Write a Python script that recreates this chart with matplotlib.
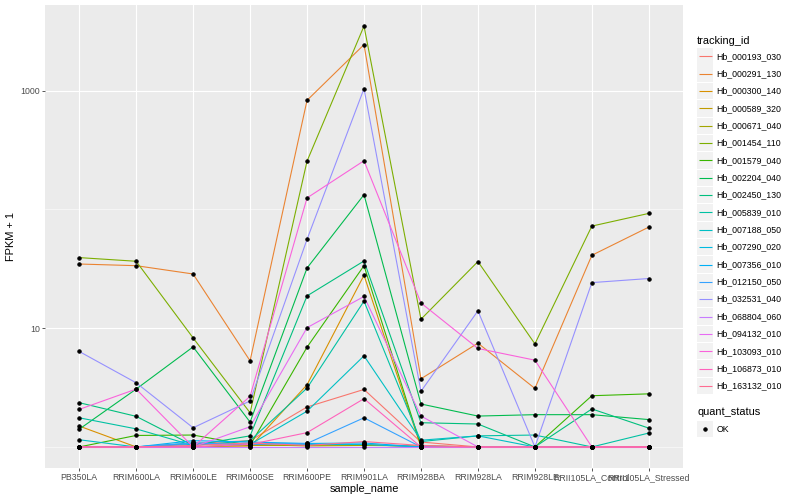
import matplotlib
matplotlib.use("Agg")
import matplotlib.pyplot as plt
import numpy as np
from matplotlib.patches import Rectangle

plt.rcParams['font.family'] = ['Liberation Sans', 'DejaVu Sans']

samples = ["PB350LA", "RRIM600LA", "RRIM600LE", "RRIM600SE", "RRIM600PE",
           "RRIM901LA", "RRIM928BA", "RRIM928LA", "RRIM928LE",
           "RRII105LA_Control", "RRII105LA_Stressed"]

tracking_ids = ["Hb_000193_030", "Hb_000291_130", "Hb_000300_140", "Hb_000589_320",
                "Hb_000671_040", "Hb_001454_110", "Hb_001579_040", "Hb_002204_040",
                "Hb_002450_130", "Hb_005839_010", "Hb_007188_050", "Hb_007290_020",
                "Hb_007356_010", "Hb_012150_050", "Hb_032531_040", "Hb_068804_060",
                "Hb_094132_010", "Hb_103093_010", "Hb_106873_010", "Hb_163132_010"]

colors = ["#F8766D", "#EA8331", "#D89000", "#C09B00", "#A3A500", "#7CAE00",
          "#39B600", "#00BB4E", "#00BF7D", "#00C1A3", "#00BFC4", "#00BAE0",
          "#00B0F6", "#35A2FF", "#9590FF", "#C77CFF", "#E76BF3", "#FA62DB",
          "#FF62BC", "#FF6C91"]

# FPKM + 1 values, one list per tracking_id, in sample order
hb_000193_030 = [1, 1, 1.07, 1.13, 2.17, 3.05, 1.10, 1, 1, 1, 1]
hb_000291_130 = [34.7, 33.6, 28.6, 5.31, 829, 2440, 3.75, 7.48, 3.11, 41.1, 71.0]
hb_000300_140 = [1.50, 1, 1, 1, 3.34, 27.9, 1, 1, 1, 1, 1]
hb_000589_320 = [1, 1, 1, 1.03, 1.03, 1.05, 1, 1, 1, 1, 1]
hb_000671_040 = [1, 1, 1, 1.05, 1.02, 1.03, 1.02, 1, 1, 1, 1]
hb_001454_110 = [39.3, 36.6, 8.28, 1.94, 255, 3500, 11.9, 36.4, 7.38, 72.4, 92.6]
hb_001579_040 = [1, 1.25, 1.26, 1.03, 6.92, 33.6, 1.02, 1, 1, 2.70, 2.80]
hb_002204_040 = [1.41, 3.07, 6.96, 1.62, 32.1, 133, 2.30, 1.82, 1.87, 1.87, 1.70]
hb_002450_130 = [2.36, 1.81, 1.03, 1.24, 18.7, 36.8, 1.60, 1.56, 1, 2.09, 1.44]
hb_005839_010 = [1.76, 1.42, 1.03, 1.13, 3.13, 16.9, 1.11, 1.24, 1.26, 1, 1.31]
hb_007188_050 = [1.15, 1, 1.08, 1.05, 2.00, 5.85, 1.14, 1.24, 1, 1, 1]
hb_007290_020 = [1, 1, 1.05, 1.08, 1.05, 1.05, 1, 1, 1, 1, 1]
hb_007356_010 = [1, 1, 1.13, 1.10, 1.07, 1.08, 1, 1, 1, 1, 1]
hb_012150_050 = [1, 1, 1.08, 1.05, 1.07, 1.76, 1, 1, 1, 1, 1]
hb_032531_040 = [6.37, 3.47, 1.45, 2.44, 56.0, 1040, 2.94, 14.0, 1, 24.2, 26.2]
hb_068804_060 = [1, 1, 1, 1, 1, 1, 1, 1, 1, 1, 1]
hb_094132_010 = [1, 1, 1, 1.48, 10.1, 18.5, 1.82, 1, 1, 1, 1]
hb_103093_010 = [2.07, 3.07, 1, 2.67, 125, 257, 16.3, 6.75, 5.38, 1, 1]
hb_106873_010 = [1, 1, 1, 1.05, 1.32, 2.55, 1, 1, 1, 1, 1]
hb_163132_010 = [1, 1, 1.03, 1.08, 1.03, 1.11, 1.03, 1, 1, 1, 1]

series = [hb_000193_030, hb_000291_130, hb_000300_140, hb_000589_320, hb_000671_040,
          hb_001454_110, hb_001579_040, hb_002204_040, hb_002450_130, hb_005839_010,
          hb_007188_050, hb_007290_020, hb_007356_010, hb_012150_050, hb_032531_040,
          hb_068804_060, hb_094132_010, hb_103093_010, hb_106873_010, hb_163132_010]

W, H = 800, 500
fig = plt.figure(figsize=(W / 72, H / 72), dpi=72)
fig.patch.set_facecolor("white")

L, R, T, B = 45, 683, 5, 468
ax = fig.add_axes([L / W, 1 - B / H, (R - L) / W, (B - T) / H])
ax.set_facecolor("#EBEBEB")

x = np.arange(1, len(samples) + 1)
for vals, c in zip(series, colors):
    ax.plot(x, vals, color=c, lw=1.1, zorder=2, solid_capstyle="butt")
for vals in series:
    ax.plot(x, vals, ls="none", marker="o", ms=3.4, color="black", zorder=3)

ax.set_yscale("log")
allv = np.log10(np.concatenate([np.array(s, dtype=float) for s in series]))
lo, hi = allv.min(), allv.max()
pad = 0.05 * (hi - lo)
ax.set_ylim(10 ** (lo - pad), 10 ** (hi + pad))
ax.set_xlim(0.4, len(samples) + 0.6)

ax.set_xticks(x)
ax.set_xticklabels(samples)
ax.set_yticks([10, 1000])
ax.set_yticklabels(["10", "1000"])
ax.set_yticks([1, 100], minor=True)
ax.set_yticklabels(["", ""], minor=True)
ax.grid(which="major", color="white", lw=1.1)
ax.grid(which="minor", axis="y", color="white", lw=0.55)
ax.set_axisbelow(True)
for s in ax.spines.values():
    s.set_visible(False)
ax.tick_params(which="major", length=2.75, width=0.8, color="#333333",
               labelcolor="#4D4D4D", labelsize=8.8, pad=2.2)
ax.tick_params(which="minor", length=0)
ax.set_xlabel("sample_name", fontsize=11, labelpad=2)
ax.set_ylabel("FPKM + 1", fontsize=11, labelpad=4)

# legend overlay in pixel coordinates
lg = fig.add_axes([0, 0, 1, 1], facecolor="none")
lg.set_xlim(0, W)
lg.set_ylim(H, 0)
lg.axis("off")

lg.text(697, 40.5, "tracking_id", fontsize=11, va="center", ha="left")
y0, dy = 56.3, 17.35
for i, (tid, c) in enumerate(zip(tracking_ids, colors)):
    yc = y0 + i * dy
    lg.add_patch(Rectangle((697, yc - 8.2), 16.4, 16.4, facecolor="#F2F2F2",
                           edgecolor="none"))
    lg.plot([698.5, 711.5], [yc, yc], color=c, lw=1.1, solid_capstyle="butt")
    lg.text(716.5, yc, tid, fontsize=8.8, va="center", ha="left")

lg.text(697, 412.3, "quant_status", fontsize=11, va="center", ha="left")
yc = 429
lg.add_patch(Rectangle((697, yc - 8.2), 16.4, 16.4, facecolor="#F2F2F2",
                       edgecolor="none"))
lg.plot([705.2], [yc], ls="none", marker="o", ms=3.4, color="black")
lg.text(716.5, yc, "OK", fontsize=8.8, va="center", ha="left")

fig.savefig("out.png", dpi=72)
